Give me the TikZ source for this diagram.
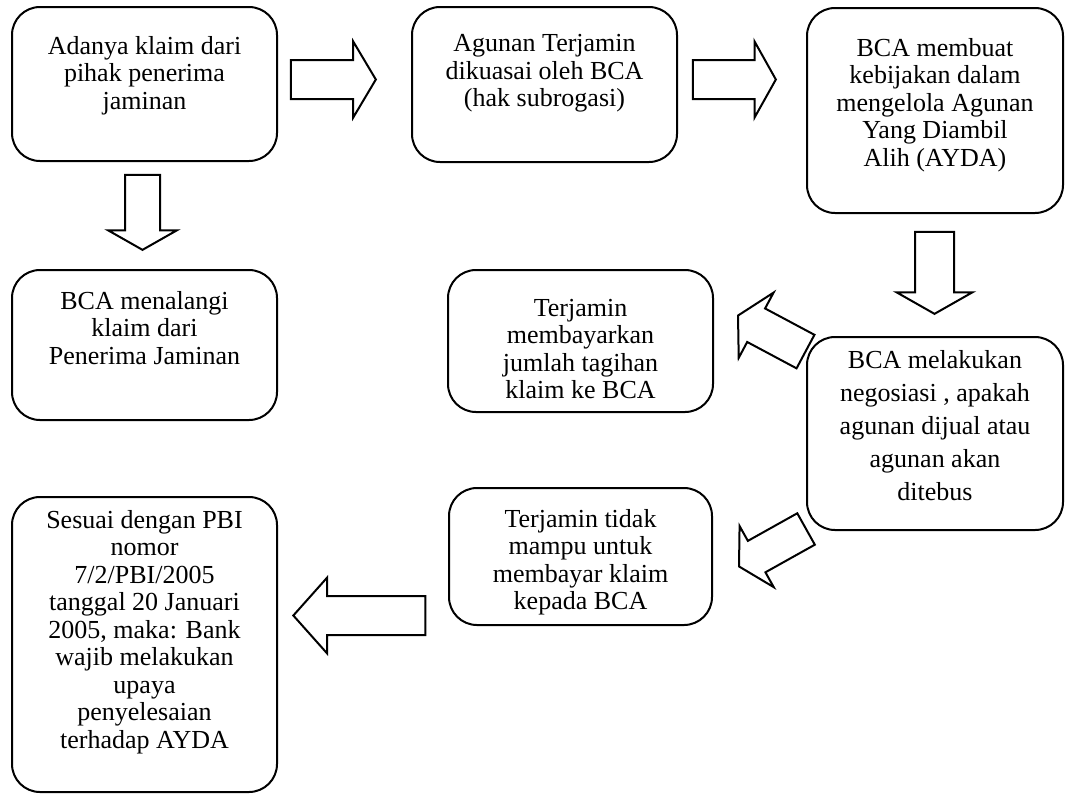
\documentclass[tikz,border=0pt]{standalone}
\usepackage{fontspec}
\setmainfont{Liberation Serif}
\usetikzlibrary{shapes.arrows}
\newcommand{\boxtext}[4]{\parbox[c][#2][t]{#1}{\centering\vspace*{#3}#4}}

\begin{document}
\begin{tikzpicture}[x=0.5pt,y=-0.5pt,
		box/.style={draw, line width=1pt, rounded corners=14pt, inner sep=0pt, font=\fontsize{13}{13.75}\selectfont},
		blockarrow/.style={draw, line width=1pt, single arrow, anchor=tip, inner sep=0pt, text depth=0pt}]
		\useasboundingbox (0,0) rectangle (1065,794);
		% Define nodes
		\node[box] (klaim) at (144.5,84) {\boxtext{132.5pt}{77pt}{14.5pt}{Adanya klaim dari\\pihak penerima\\jaminan}};
		\node[box] (agunan) at (544.5,84.5) {\boxtext{132.5pt}{77.5pt}{13.75pt}{Agunan Terjamin\\dikuasai oleh BCA\\(hak subrogasi)}};
		\node[box] (kebijakan) at (935,110.5) {\boxtext{128pt}{102.5pt}{15pt}{BCA membuat\\kebijakan dalam\\mengelola Agunan\\Yang Diambil\\Alih (AYDA)}};
		\node[box] (talangan) at (144.5,345) {\boxtext{132.5pt}{75pt}{10.5pt}{BCA menalangi\\klaim dari\\Penerima Jaminan}};
		\node[box] (bayar) at (580.5,341) {\boxtext{132.5pt}{71pt}{14.5pt}{Terjamin\\membayarkan\\jumlah tagihan\\klaim ke BCA}};
		\node[box, font=\fontsize{13}{16.6}\selectfont] (negosiasi) at (935,433.5) {\boxtext{128pt}{96.5pt}{6.5pt}{BCA melakukan\\negosiasi , apakah\\agunan dijual atau\\agunan akan\\ditebus}};
		\node[box] (tidakmampu) at (580.5,556.5) {\boxtext{131.5pt}{68.5pt}{10.5pt}{Terjamin tidak\\mampu untuk\\membayar klaim\\kepada BCA}};
		\node[box] (pbi) at (144.5,644.5) {\boxtext{132.5pt}{147.5pt}{6.5pt}{Sesuai dengan PBI\\nomor\\7/2/PBI/2005\\tanggal 20 Januari\\2005, maka: Bank\\wajib melakukan\\upaya\\penyelesaian\\terhadap AYDA}};
		
		% Connect the nodes
		\node[blockarrow, text height=18.5pt, minimum height=42.5pt, single arrow head extend=9.25pt, single arrow tip angle=118.5] (klaim-agunan) at (377,79.5) {};
		\node[blockarrow, text height=18.5pt, minimum height=41.5pt, single arrow head extend=9.25pt, single arrow tip angle=121.5] (agunan-kebijakan) at (777,79.5) {};
		\node[blockarrow, rotate=-90, text height=16.5pt, minimum height=37.5pt, single arrow head extend=8.5pt, single arrow tip angle=120.8] (klaim-talangan) at (142.5,251) {};
		\node[blockarrow, rotate=-90, text height=18.5pt, minimum height=41pt, single arrow head extend=9.25pt, single arrow tip angle=120.8] (kebijakan-negosiasi) at (934.5,315) {};
		\node[blockarrow, rotate=151.9, text height=18pt, minimum height=38.25pt, single arrow head extend=9pt, single arrow tip angle=121.9] (negosiasi-bayar) at (737,315) {};
		\node[blockarrow, rotate=209.2, text height=17pt, minimum height=38.4pt, single arrow head extend=8.5pt, single arrow tip angle=120] (negosiasi-tidakmampu) at (738,567) {};
		\node[blockarrow, rotate=180, text height=18.5pt, minimum height=66pt, single arrow head extend=9.25pt, single arrow tip angle=96.6] (tidakmampu-pbi) at (292,615.5) {};
	\end{tikzpicture}
\end{document}
